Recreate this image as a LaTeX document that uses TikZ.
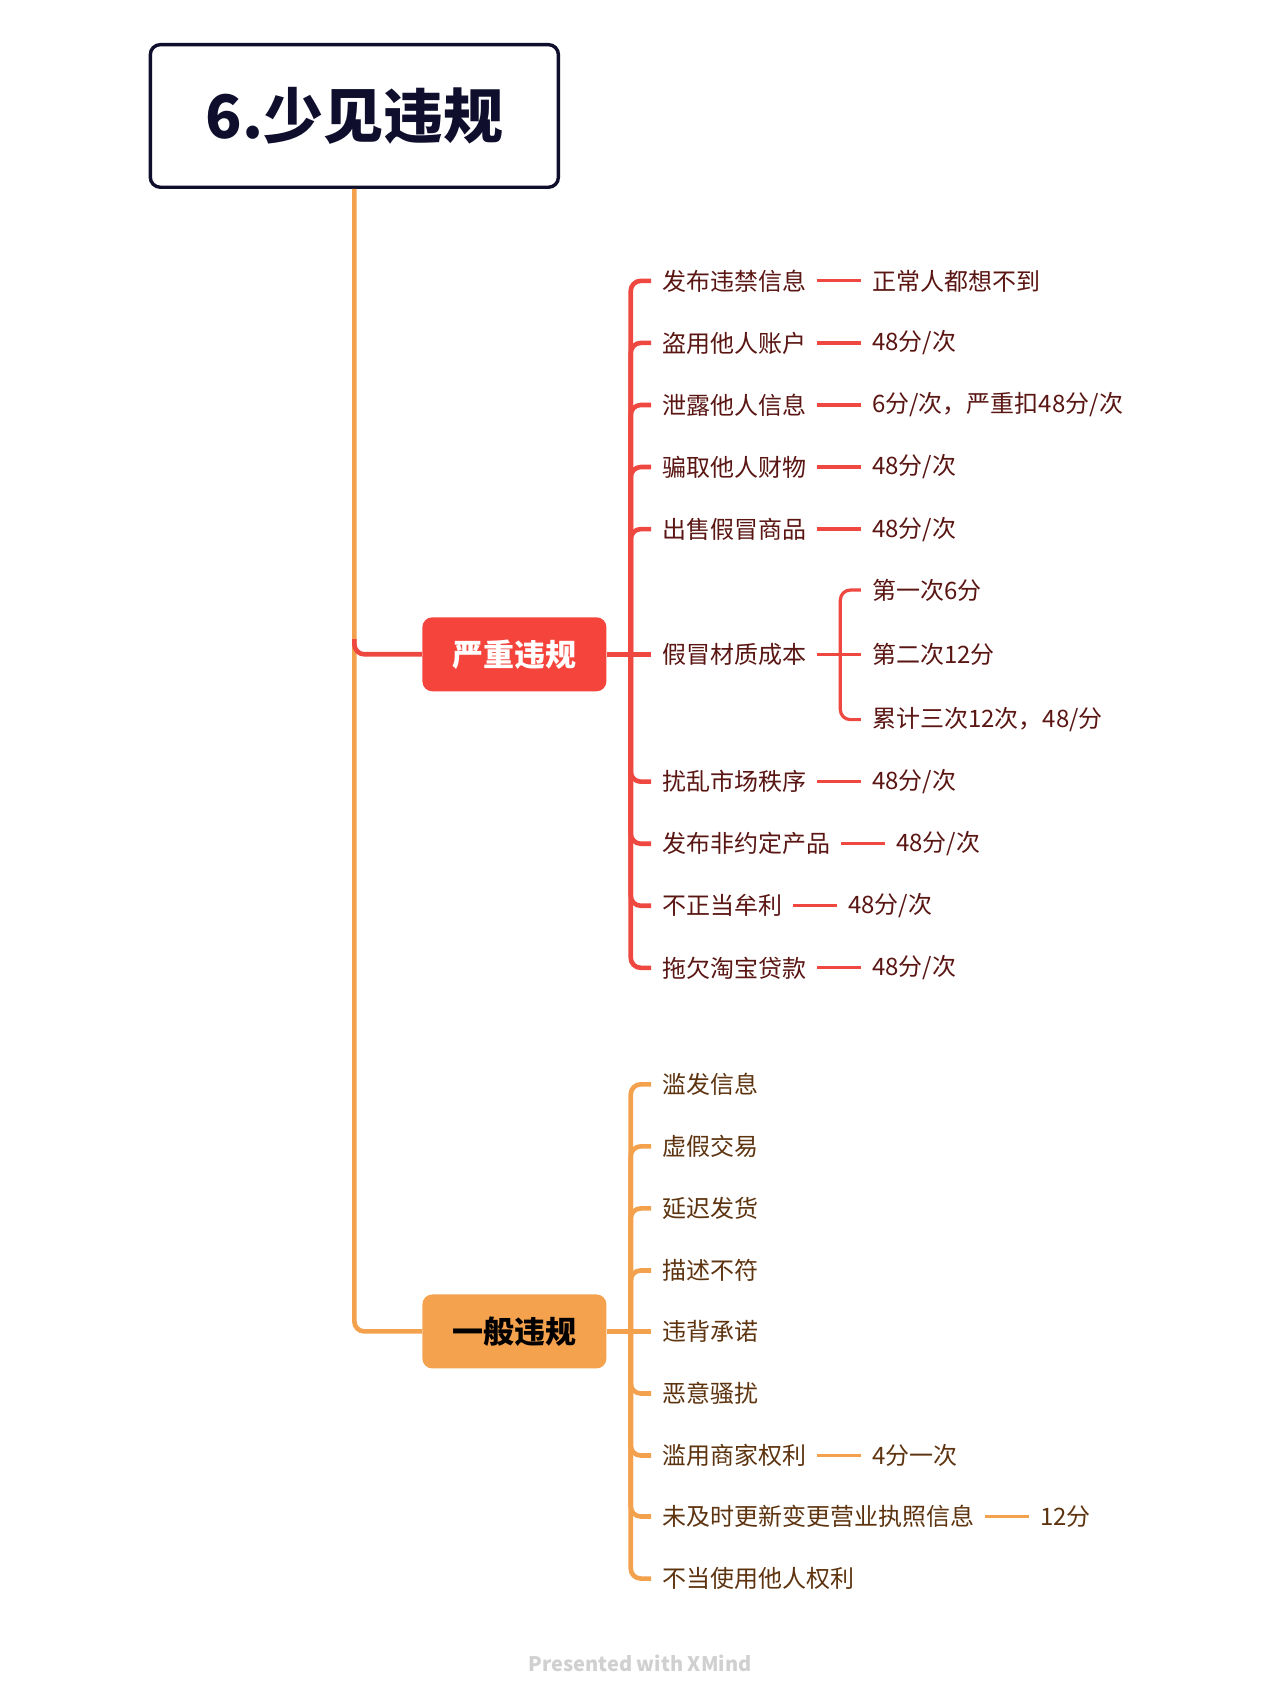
\documentclass[tikz,border=0pt]{standalone}
\usepackage{fontspec}
\setmainfont{Noto Sans CJK SC}
\usetikzlibrary{calc}
\definecolor{navy}{HTML}{0F0F2D}
\definecolor{redbox}{HTML}{F5443B}
\definecolor{redline}{HTML}{EF4840}
\definecolor{redtext}{HTML}{5A1613}
\definecolor{orbox}{HTML}{F5A24E}
\definecolor{orline}{HTML}{F4A14D}
\definecolor{brtext}{HTML}{5E3410}
\definecolor{foot}{HTML}{D0D0D0}
\begin{document}
\begin{tikzpicture}[x=0.5442pt,y=-0.5442pt,
  titlebox/.style={draw=navy,line width=1.7pt,rounded corners=5pt,minimum width=204pt,minimum height=71.3pt,text=navy,font=\fontsize{30}{36}\selectfont\bfseries},
  mainbox/.style={rounded corners=5pt,minimum width=92pt,minimum height=37pt,inner sep=0pt,font=\fontsize{15.5}{18}\selectfont\bfseries},
  leaf/.style={anchor=west,inner xsep=5.4pt,inner ysep=1pt,font=\fontsize{12}{14}\selectfont},
  redleaf/.style={leaf,text=redtext},
  brleaf/.style={leaf,text=brtext},
  redthick/.style={draw=redline,line width=2.3pt,rounded corners=5pt},
  redthin/.style={draw=redline,line width=1.6pt,rounded corners=5pt},
  orthick/.style={draw=orline,line width=2.3pt,rounded corners=5pt},
  orthin/.style={draw=orline,line width=1.6pt},
]
\useasboundingbox[fill=white] (0,0) rectangle (1176,1568);

% root
\node[titlebox] (title) at (325.5,106.5) {6.少见违规};

% main topics
\node[mainbox,fill=redbox,text=white] (zb) at (472.5,601) {严重违规};
\node[mainbox,fill=orbox,text=black] (yb) at (472.5,1223) {一般违规};

% trunk
\draw[orthick] (title.south) |- (yb.west);
\coordinate (zr) at ($(title.south |- zb.west)+(0,-14)$);
\draw[redthick] (zr) |- (zb.west);

% red children
\node[redleaf] (c1) at (598,258) {发布违禁信息};
\node[redleaf] (c2) at (598,315) {盗用他人账户};
\node[redleaf] (c3) at (598,372) {泄露他人信息};
\node[redleaf] (c4) at (598,429) {骗取他人财物};
\node[redleaf] (c5) at (598,486) {出售假冒商品};
\node[redleaf] (c6) at (598,601) {假冒材质成本};
\node[redleaf] (c7) at (598,718) {扰乱市场秩序};
\node[redleaf] (c8) at (598,775) {发布非约定产品};
\node[redleaf] (c9) at (598,832) {不正当牟利};
\node[redleaf] (c10) at (598,889) {拖欠淘宝贷款};

\coordinate (rbus) at ($(zb.east)+(22,0)$);
\draw[redthick] (zb.east) -- (c6.west);
\foreach \i in {1,2,3,4,5,7,8,9,10}{
  \draw[redthick] (rbus) |- (c\i.west);
}

% red values
\node[redleaf] (v1) at ($(c1.east)+(40,0)$) {正常人都想不到};
\node[redleaf] (v2) at ($(c2.east)+(40,0)$) {48分/次};
\node[redleaf] (v3) at ($(c3.east)+(40,0)$) {6分/次，严重扣48分/次};
\node[redleaf] (v4) at ($(c4.east)+(40,0)$) {48分/次};
\node[redleaf] (v5) at ($(c5.east)+(40,0)$) {48分/次};
\node[redleaf] (v7) at ($(c7.east)+(40,0)$) {48分/次};
\node[redleaf] (v8) at ($(c8.east)+(40,0)$) {48分/次};
\node[redleaf] (v9) at ($(c9.east)+(40,0)$) {48分/次};
\node[redleaf] (v10) at ($(c10.east)+(40,0)$) {48分/次};
\foreach \i in {1,2,3,4,5,7,8,9,10}{
  \draw[redthin] (c\i.east) -- (v\i.west);
}

% grandchildren of c6
\node[redleaf] (g1) at ($(c6.east)+(40,-59)$) {第一次6分};
\node[redleaf] (g2) at ($(c6.east)+(40,0)$) {第二次12分};
\node[redleaf] (g3) at ($(c6.east)+(40,60)$) {累计三次12次，48/分};
\coordinate (gbus) at ($(c6.east)+(21,0)$);
\draw[redthin] (c6.east) -- (g2.west);
\draw[redthin] (gbus) |- (g1.west);
\draw[redthin] (gbus) |- (g3.west);

% orange children
\node[brleaf] (o1) at (598,996) {滥发信息};
\node[brleaf] (o2) at (598,1053) {虚假交易};
\node[brleaf] (o3) at (598,1110) {延迟发货};
\node[brleaf] (o4) at (598,1167) {描述不符};
\node[brleaf] (o5) at (598,1223) {违背承诺};
\node[brleaf] (o6) at (598,1280) {恶意骚扰};
\node[brleaf] (o7) at (598,1337) {滥用商家权利};
\node[brleaf] (o8) at (598,1393) {未及时更新变更营业执照信息};
\node[brleaf] (o9) at (598,1450) {不当使用他人权利};

\coordinate (obus) at ($(yb.east)+(22,0)$);
\draw[orthick] (yb.east) -- (o5.west);
\foreach \i in {1,2,3,4,6,7,8,9}{
  \draw[orthick] (obus) |- (o\i.west);
}

\node[brleaf] (w7) at ($(o7.east)+(40,0)$) {4分一次};
\node[brleaf] (w8) at ($(o8.east)+(40,0)$) {12分};
\draw[orthin] (o7.east) -- (w7.west);
\draw[orthin] (o8.east) -- (w8.west);

% footer
\node[text=foot,font=\fontsize{10}{12}\selectfont\bfseries] (footer) at (588,1528) {Presented with XMind};
\end{tikzpicture}
\end{document}
